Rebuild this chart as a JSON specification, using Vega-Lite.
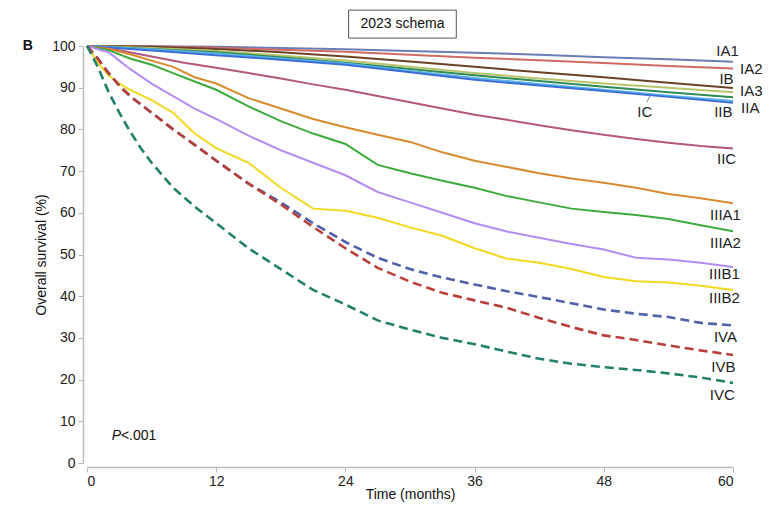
{
  "$schema": "https://vega.github.io/schema/vega-lite/v6.json",
  "autosize": {"type": "none"},
  "padding": {"left": 87, "top": 46, "right": 45, "bottom": 42},
  "width": 646,
  "height": 417,
  "background": "white",
  "config": {"view": {"stroke": null}, "font": "Liberation Sans"},
  "datasets": {
    "curves": [
      {"stage":"IA1","month":0,"survival":100},{"stage":"IA1","month":6,"survival":99.95},{"stage":"IA1","month":12,"survival":99.8},{"stage":"IA1","month":18,"survival":99.5},{"stage":"IA1","month":24,"survival":99.2},{"stage":"IA1","month":30,"survival":98.8},{"stage":"IA1","month":36,"survival":98.4},{"stage":"IA1","month":42,"survival":97.9},{"stage":"IA1","month":48,"survival":97.3},{"stage":"IA1","month":54,"survival":96.8},{"stage":"IA1","month":60,"survival":96.2},
      {"stage":"IA2","month":0,"survival":100},{"stage":"IA2","month":6,"survival":99.9},{"stage":"IA2","month":12,"survival":99.6},{"stage":"IA2","month":18,"survival":99.1},{"stage":"IA2","month":24,"survival":98.6},{"stage":"IA2","month":30,"survival":97.9},{"stage":"IA2","month":36,"survival":97.2},{"stage":"IA2","month":42,"survival":96.6},{"stage":"IA2","month":48,"survival":95.9},{"stage":"IA2","month":54,"survival":95.2},{"stage":"IA2","month":60,"survival":94.6},
      {"stage":"IB","month":0,"survival":100},{"stage":"IB","month":6,"survival":99.8},{"stage":"IB","month":12,"survival":99.3},{"stage":"IB","month":18,"survival":98.5},{"stage":"IB","month":24,"survival":97.5},{"stage":"IB","month":30,"survival":96.3},{"stage":"IB","month":36,"survival":95},{"stage":"IB","month":42,"survival":93.7},{"stage":"IB","month":48,"survival":92.5},{"stage":"IB","month":54,"survival":91.2},{"stage":"IB","month":60,"survival":89.9},
      {"stage":"IA3","month":0,"survival":100},{"stage":"IA3","month":6,"survival":99.5},{"stage":"IA3","month":12,"survival":98.8},{"stage":"IA3","month":18,"survival":97.7},{"stage":"IA3","month":24,"survival":96.5},{"stage":"IA3","month":30,"survival":95},{"stage":"IA3","month":36,"survival":93.5},{"stage":"IA3","month":42,"survival":92.2},{"stage":"IA3","month":48,"survival":91},{"stage":"IA3","month":54,"survival":90},{"stage":"IA3","month":60,"survival":88.9},
      {"stage":"IIA","month":0,"survival":100},{"stage":"IIA","month":6,"survival":99.3},{"stage":"IIA","month":12,"survival":98.5},{"stage":"IIA","month":18,"survival":97.3},{"stage":"IIA","month":24,"survival":96},{"stage":"IIA","month":30,"survival":94.5},{"stage":"IIA","month":36,"survival":93},{"stage":"IIA","month":42,"survival":91.6},{"stage":"IIA","month":48,"survival":90.2},{"stage":"IIA","month":54,"survival":88.9},{"stage":"IIA","month":60,"survival":87.7},
      {"stage":"IIB","month":0,"survival":100},{"stage":"IIB","month":6,"survival":99.2},{"stage":"IIB","month":12,"survival":98.2},{"stage":"IIB","month":18,"survival":97},{"stage":"IIB","month":24,"survival":95.8},{"stage":"IIB","month":30,"survival":94},{"stage":"IIB","month":36,"survival":92.3},{"stage":"IIB","month":42,"survival":90.9},{"stage":"IIB","month":48,"survival":89.5},{"stage":"IIB","month":54,"survival":88.1},{"stage":"IIB","month":60,"survival":86.8},
      {"stage":"IC","month":0,"survival":100},{"stage":"IC","month":6,"survival":98.9},{"stage":"IC","month":12,"survival":97.8},{"stage":"IC","month":18,"survival":96.7},{"stage":"IC","month":24,"survival":95.5},{"stage":"IC","month":30,"survival":93.7},{"stage":"IC","month":36,"survival":91.9},{"stage":"IC","month":42,"survival":90.5},{"stage":"IC","month":48,"survival":89.2},{"stage":"IC","month":54,"survival":87.8},{"stage":"IC","month":60,"survival":86.4},
      {"stage":"IIC","month":0,"survival":100},{"stage":"IIC","month":3,"survival":99},{"stage":"IIC","month":6,"survival":97.5},{"stage":"IIC","month":9,"survival":96},{"stage":"IIC","month":12,"survival":94.8},{"stage":"IIC","month":15,"survival":93.5},{"stage":"IIC","month":18,"survival":92.2},{"stage":"IIC","month":21,"survival":90.8},{"stage":"IIC","month":24,"survival":89.5},{"stage":"IIC","month":27,"survival":88},{"stage":"IIC","month":30,"survival":86.5},{"stage":"IIC","month":33,"survival":85},{"stage":"IIC","month":36,"survival":83.5},{"stage":"IIC","month":39,"survival":82.3},{"stage":"IIC","month":42,"survival":81},{"stage":"IIC","month":45,"survival":79.8},{"stage":"IIC","month":48,"survival":78.7},{"stage":"IIC","month":51,"survival":77.7},{"stage":"IIC","month":54,"survival":76.8},{"stage":"IIC","month":57,"survival":76},{"stage":"IIC","month":60,"survival":75.4},
      {"stage":"IIIA1","month":0,"survival":100},{"stage":"IIIA1","month":2,"survival":99.3},{"stage":"IIIA1","month":4,"survival":98},{"stage":"IIIA1","month":6,"survival":96.5},{"stage":"IIIA1","month":8,"survival":95},{"stage":"IIIA1","month":10,"survival":92.5},{"stage":"IIIA1","month":12,"survival":91},{"stage":"IIIA1","month":15,"survival":87.5},{"stage":"IIIA1","month":18,"survival":85},{"stage":"IIIA1","month":21,"survival":82.5},{"stage":"IIIA1","month":24,"survival":80.5},{"stage":"IIIA1","month":27,"survival":78.7},{"stage":"IIIA1","month":30,"survival":77},{"stage":"IIIA1","month":33,"survival":74.5},{"stage":"IIIA1","month":36,"survival":72.5},{"stage":"IIIA1","month":39,"survival":71},{"stage":"IIIA1","month":42,"survival":69.5},{"stage":"IIIA1","month":45,"survival":68.2},{"stage":"IIIA1","month":48,"survival":67.2},{"stage":"IIIA1","month":51,"survival":66},{"stage":"IIIA1","month":54,"survival":64.5},{"stage":"IIIA1","month":57,"survival":63.5},{"stage":"IIIA1","month":60,"survival":62.3},
      {"stage":"IIIA2","month":0,"survival":100},{"stage":"IIIA2","month":2,"survival":99},{"stage":"IIIA2","month":3,"survival":98},{"stage":"IIIA2","month":4,"survival":97},{"stage":"IIIA2","month":6,"survival":95.5},{"stage":"IIIA2","month":8,"survival":93.5},{"stage":"IIIA2","month":10,"survival":91.5},{"stage":"IIIA2","month":12,"survival":89.5},{"stage":"IIIA2","month":15,"survival":85.5},{"stage":"IIIA2","month":18,"survival":82},{"stage":"IIIA2","month":21,"survival":79},{"stage":"IIIA2","month":24,"survival":76.5},{"stage":"IIIA2","month":27,"survival":71.5},{"stage":"IIIA2","month":30,"survival":69.5},{"stage":"IIIA2","month":33,"survival":67.7},{"stage":"IIIA2","month":36,"survival":66},{"stage":"IIIA2","month":39,"survival":64},{"stage":"IIIA2","month":42,"survival":62.5},{"stage":"IIIA2","month":45,"survival":61},{"stage":"IIIA2","month":48,"survival":60.2},{"stage":"IIIA2","month":51,"survival":59.5},{"stage":"IIIA2","month":54,"survival":58.5},{"stage":"IIIA2","month":57,"survival":57},{"stage":"IIIA2","month":60,"survival":55.6},
      {"stage":"IIIB1","month":0,"survival":100},{"stage":"IIIB1","month":2,"survival":98.5},{"stage":"IIIB1","month":3,"survival":96.5},{"stage":"IIIB1","month":4,"survival":94.5},{"stage":"IIIB1","month":6,"survival":91},{"stage":"IIIB1","month":8,"survival":88},{"stage":"IIIB1","month":10,"survival":85},{"stage":"IIIB1","month":12,"survival":82.5},{"stage":"IIIB1","month":15,"survival":78.5},{"stage":"IIIB1","month":18,"survival":75},{"stage":"IIIB1","month":21,"survival":72},{"stage":"IIIB1","month":24,"survival":69},{"stage":"IIIB1","month":27,"survival":65},{"stage":"IIIB1","month":30,"survival":62.5},{"stage":"IIIB1","month":33,"survival":60},{"stage":"IIIB1","month":36,"survival":57.5},{"stage":"IIIB1","month":39,"survival":55.5},{"stage":"IIIB1","month":42,"survival":54},{"stage":"IIIB1","month":45,"survival":52.5},{"stage":"IIIB1","month":48,"survival":51.2},{"stage":"IIIB1","month":51,"survival":49.2},{"stage":"IIIB1","month":54,"survival":48.8},{"stage":"IIIB1","month":57,"survival":48},{"stage":"IIIB1","month":60,"survival":47},
      {"stage":"IIIB2","month":0,"survival":100},{"stage":"IIIB2","month":1,"survival":96},{"stage":"IIIB2","month":2,"survival":93},{"stage":"IIIB2","month":3,"survival":91},{"stage":"IIIB2","month":4,"survival":89.5},{"stage":"IIIB2","month":6,"survival":87},{"stage":"IIIB2","month":8,"survival":84},{"stage":"IIIB2","month":10,"survival":79},{"stage":"IIIB2","month":12,"survival":75.5},{"stage":"IIIB2","month":15,"survival":72},{"stage":"IIIB2","month":18,"survival":66},{"stage":"IIIB2","month":21,"survival":61},{"stage":"IIIB2","month":24,"survival":60.5},{"stage":"IIIB2","month":27,"survival":58.8},{"stage":"IIIB2","month":30,"survival":56.5},{"stage":"IIIB2","month":33,"survival":54.5},{"stage":"IIIB2","month":36,"survival":51.5},{"stage":"IIIB2","month":39,"survival":49},{"stage":"IIIB2","month":42,"survival":48},{"stage":"IIIB2","month":45,"survival":46.5},{"stage":"IIIB2","month":48,"survival":44.6},{"stage":"IIIB2","month":51,"survival":43.6},{"stage":"IIIB2","month":54,"survival":43.3},{"stage":"IIIB2","month":57,"survival":42.5},{"stage":"IIIB2","month":60,"survival":41.5},
      {"stage":"IVA","month":0,"survival":100},{"stage":"IVA","month":1,"survival":97},{"stage":"IVA","month":2,"survival":93.5},{"stage":"IVA","month":3,"survival":90.5},{"stage":"IVA","month":4,"survival":88},{"stage":"IVA","month":6,"survival":84},{"stage":"IVA","month":8,"survival":80},{"stage":"IVA","month":10,"survival":76.3},{"stage":"IVA","month":12,"survival":72.5},{"stage":"IVA","month":15,"survival":67},{"stage":"IVA","month":18,"survival":62.5},{"stage":"IVA","month":21,"survival":57.5},{"stage":"IVA","month":24,"survival":53},{"stage":"IVA","month":27,"survival":49.2},{"stage":"IVA","month":30,"survival":46.5},{"stage":"IVA","month":33,"survival":44.5},{"stage":"IVA","month":36,"survival":42.8},{"stage":"IVA","month":39,"survival":41.2},{"stage":"IVA","month":42,"survival":39.8},{"stage":"IVA","month":45,"survival":38.3},{"stage":"IVA","month":48,"survival":36.8},{"stage":"IVA","month":51,"survival":35.8},{"stage":"IVA","month":54,"survival":35},{"stage":"IVA","month":57,"survival":33.6},{"stage":"IVA","month":60,"survival":33},
      {"stage":"IVB","month":0,"survival":100},{"stage":"IVB","month":1,"survival":97},{"stage":"IVB","month":2,"survival":93.5},{"stage":"IVB","month":3,"survival":90.5},{"stage":"IVB","month":4,"survival":88},{"stage":"IVB","month":6,"survival":84},{"stage":"IVB","month":8,"survival":80},{"stage":"IVB","month":10,"survival":76.3},{"stage":"IVB","month":12,"survival":72.5},{"stage":"IVB","month":15,"survival":67},{"stage":"IVB","month":18,"survival":62},{"stage":"IVB","month":21,"survival":56.6},{"stage":"IVB","month":24,"survival":51.5},{"stage":"IVB","month":27,"survival":46.8},{"stage":"IVB","month":30,"survival":43.5},{"stage":"IVB","month":33,"survival":40.8},{"stage":"IVB","month":36,"survival":39},{"stage":"IVB","month":39,"survival":37.2},{"stage":"IVB","month":42,"survival":34.8},{"stage":"IVB","month":45,"survival":32.6},{"stage":"IVB","month":48,"survival":30.6},{"stage":"IVB","month":51,"survival":29.5},{"stage":"IVB","month":54,"survival":28.2},{"stage":"IVB","month":57,"survival":27},{"stage":"IVB","month":60,"survival":25.9},
      {"stage":"IVC","month":0,"survival":100},{"stage":"IVC","month":1,"survival":95},{"stage":"IVC","month":2,"survival":89},{"stage":"IVC","month":3,"survival":84},{"stage":"IVC","month":4,"survival":79.5},{"stage":"IVC","month":5,"survival":75.5},{"stage":"IVC","month":6,"survival":72},{"stage":"IVC","month":8,"survival":66},{"stage":"IVC","month":10,"survival":61.5},{"stage":"IVC","month":12,"survival":57.5},{"stage":"IVC","month":15,"survival":51.5},{"stage":"IVC","month":18,"survival":46.5},{"stage":"IVC","month":21,"survival":41.5},{"stage":"IVC","month":24,"survival":38},{"stage":"IVC","month":27,"survival":34.2},{"stage":"IVC","month":30,"survival":32},{"stage":"IVC","month":33,"survival":30},{"stage":"IVC","month":36,"survival":28.5},{"stage":"IVC","month":39,"survival":26.7},{"stage":"IVC","month":42,"survival":25},{"stage":"IVC","month":45,"survival":23.8},{"stage":"IVC","month":48,"survival":23},{"stage":"IVC","month":51,"survival":22.3},{"stage":"IVC","month":54,"survival":21.5},{"stage":"IVC","month":57,"survival":20.5},{"stage":"IVC","month":60,"survival":19.2}
    ],
    "labels": [
      {"label":"IA1","month":59.5,"survival":98.8},
      {"label":"IA2","month":61.7,"survival":94.6},
      {"label":"IB","month":59.4,"survival":92},
      {"label":"IA3","month":61.7,"survival":89.3},
      {"label":"IIA","month":61.6,"survival":85.2},
      {"label":"IIB","month":59.1,"survival":84.2},
      {"label":"IC","month":51.8,"survival":84.2},
      {"label":"IIC","month":59.4,"survival":73},
      {"label":"IIIA1","month":59.3,"survival":59.5},
      {"label":"IIIA2","month":59.3,"survival":52.8},
      {"label":"IIIB1","month":59.2,"survival":45.3},
      {"label":"IIIB2","month":59.2,"survival":39.6},
      {"label":"IVA","month":59.3,"survival":30.2},
      {"label":"IVB","month":59.1,"survival":23},
      {"label":"IVC","month":59,"survival":16.3}
    ]
  },
  "layer": [
    {
      "data": {"values": [{"x1": 24.3, "x2": 34.3, "y1": 101.9, "y2": 108.6}]},
      "mark": {"type": "rect", "fill": "white", "stroke": "#555555", "strokeWidth": 1},
      "encoding": {
        "x": {"field": "x1", "type": "quantitative"},
        "x2": {"field": "x2"},
        "y": {"field": "y1", "type": "quantitative"},
        "y2": {"field": "y2"}
      }
    },
    {
      "data": {"values": [{"text": "2023 schema", "month": 29.3, "survival": 105.2}]},
      "mark": {"type": "text", "fontSize": 14, "color": "#111111", "align": "center", "baseline": "middle"},
      "encoding": {
        "x": {"field": "month", "type": "quantitative"},
        "y": {"field": "survival", "type": "quantitative"},
        "text": {"field": "text"}
      }
    },
    {
      "data": {"values": [{"text": "B", "month": -5.5, "survival": 100}]},
      "mark": {"type": "text", "fontSize": 14, "fontWeight": "bold", "color": "#111111", "align": "center", "baseline": "middle"},
      "encoding": {
        "x": {"field": "month", "type": "quantitative"},
        "y": {"field": "survival", "type": "quantitative"},
        "text": {"field": "text"}
      }
    },
    {
      "data": {"name": "curves"},
      "transform": [{"filter": {"field": "stage", "oneOf": ["IA1","IA2","IB","IA3","IIA","IIB","IC","IIC","IIIA1","IIIA2","IIIB1","IIIB2"]}}],
      "mark": {"type": "line", "strokeWidth": 2, "interpolate": "linear"},
      "encoding": {
        "x": {"field": "month", "type": "quantitative", "scale": {"domain": [0, 60], "nice": false},
          "axis": {"values": [0,12,24,36,48,60], "title": "Time (months)", "titleFontSize": 14, "titleFontWeight": "normal", "titleColor": "#111111", "titlePadding": -1,
            "labelFontSize": 14, "labelColor": "#222222", "labelPadding": 2, "domainColor": "#bbbbbb", "tickColor": "#bbbbbb", "tickSize": 5, "grid": false, "offset": 4, "domainWidth": 1.5}},
        "y": {"field": "survival", "type": "quantitative", "scale": {"domain": [0, 100], "nice": false},
          "axis": {"values": [0,10,20,30,40,50,60,70,80,90,100], "title": "Overall survival (%)", "titleFontSize": 14, "titleFontWeight": "normal", "titleColor": "#111111", "titlePadding": 3,
            "labelFontSize": 14, "labelColor": "#222222", "labelPadding": 3, "domainColor": "#bbbbbb", "tickColor": "#bbbbbb", "tickSize": 5, "grid": false, "offset": 4, "domainWidth": 1.5}},
        "color": {"field": "stage", "type": "nominal", "legend": null,
          "scale": {"domain": ["IA1","IA2","IB","IA3","IIA","IIB","IC","IIC","IIIA1","IIIA2","IIIB1","IIIB2","IVA","IVB","IVC"],
            "range": ["#6a7db5","#d06a64","#6b4226","#b8c46a","#2e8b57","#5ab4e5","#3b6ed6","#b5577f","#d98a2e","#3daa3d","#b48cf2","#f2d81e","#5060a8","#b8403a","#23806a"]}},
        "detail": {"field": "stage"}
      }
    },
    {
      "data": {"name": "curves"},
      "transform": [{"filter": {"field": "stage", "oneOf": ["IVA","IVB","IVC"]}}],
      "mark": {"type": "line", "strokeWidth": 2.6, "strokeDash": [9, 5], "interpolate": "linear"},
      "encoding": {
        "x": {"field": "month", "type": "quantitative"},
        "y": {"field": "survival", "type": "quantitative"},
        "color": {"field": "stage", "type": "nominal", "legend": null},
        "detail": {"field": "stage"}
      }
    },
    {
      "data": {"values": [{"month": 52.0, "survival": 86.6, "month2": 52.4, "survival2": 88.6}]},
      "mark": {"type": "rule", "color": "#6a7db5", "strokeWidth": 1},
      "encoding": {
        "x": {"field": "month", "type": "quantitative"},
        "y": {"field": "survival", "type": "quantitative"},
        "x2": {"field": "month2"},
        "y2": {"field": "survival2"}
      }
    },
    {
      "data": {"name": "labels"},
      "mark": {"type": "text", "fontSize": 15, "color": "#222222", "align": "center", "baseline": "middle"},
      "encoding": {
        "x": {"field": "month", "type": "quantitative"},
        "y": {"field": "survival", "type": "quantitative"},
        "text": {"field": "label"}
      }
    },
    {
      "data": {"values": [{"text": "P", "month": 2.3, "survival": 6.5}]},
      "mark": {"type": "text", "fontSize": 14, "fontStyle": "italic", "color": "#111111", "align": "left", "baseline": "middle"},
      "encoding": {
        "x": {"field": "month", "type": "quantitative"},
        "y": {"field": "survival", "type": "quantitative"},
        "text": {"field": "text"}
      }
    },
    {
      "data": {"values": [{"text": "<.001", "month": 3.15, "survival": 6.5}]},
      "mark": {"type": "text", "fontSize": 14, "color": "#111111", "align": "left", "baseline": "middle"},
      "encoding": {
        "x": {"field": "month", "type": "quantitative"},
        "y": {"field": "survival", "type": "quantitative"},
        "text": {"field": "text"}
      }
    }
  ]
}
